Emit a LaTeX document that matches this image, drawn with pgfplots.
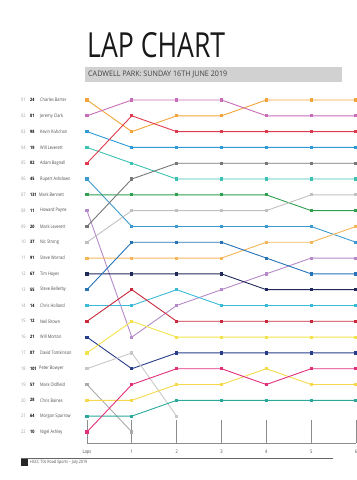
\documentclass[border=0pt]{standalone}
\usepackage{pgfplots}
\pgfplotsset{compat=1.18}
\usetikzlibrary{calc}
\usepackage{fontspec}
\usepackage{graphicx}
\setmainfont{Open Sans}[FakeStretch=0.82]
\definecolor{cBarter}{HTML}{F2A33A}
\definecolor{cClark}{HTML}{C86DB8}
\definecolor{cKiv}{HTML}{2E9BD6}
\definecolor{cWLev}{HTML}{3CC2B0}
\definecolor{cBag}{HTML}{E03A4E}
\definecolor{cAsh}{HTML}{3D9AD1}
\definecolor{cBen}{HTML}{2E9E4F}
\definecolor{cPay}{HTML}{B48AC8}
\definecolor{cMLev}{HTML}{777777}
\definecolor{cStr}{HTML}{C0C0C0}
\definecolor{cWor}{HTML}{F5B55A}
\definecolor{cHay}{HTML}{1F2A5A}
\definecolor{cBel}{HTML}{2673B8}
\definecolor{cHol}{HTML}{3BBBD6}
\definecolor{cBro}{HTML}{C8283C}
\definecolor{cMor}{HTML}{283C8C}
\definecolor{cTom}{HTML}{F2E34A}
\definecolor{cBow}{HTML}{C8C8C8}
\definecolor{cOld}{HTML}{AAAAAA}
\definecolor{cBai}{HTML}{F5D94A}
\definecolor{cSpa}{HTML}{2BA89A}
\definecolor{cAsy}{HTML}{E0307A}
\newcommand{\lbl}[5][-47bp]{%
  \node[anchor=west,inner sep=0,xshift=-66bp,text=black!40,font=\fontsize{4.8}{6}\selectfont] at (axis cs:0,#2) {#3};
  \node[anchor=west,inner sep=0,xshift=-57bp,text=black,font=\fontsize{4.6}{6}\selectfont\bfseries] at (axis cs:0,#2) {#4};
  \node[anchor=west,inner sep=0,xshift=#1,text=black!70,font=\fontsize{4.8}{6}\selectfont] at (axis cs:0,#2) {#5};}
\begin{document}
\begin{tikzpicture}[x=1bp,y=1bp]
\begin{axis}[scale only axis,
  width=269bp, height=343bp, xmin=0, xmax=6, ymin=1, ymax=22.7,
  y dir=reverse, hide axis, clip=false,
  every axis plot/.append style={line width=0.9bp, mark=square*, mark size=1.1bp}]
\coordinate (A) at (axis cs:0,1);
\draw[black!45, line width=0.8bp] (axis cs:0,22.7) -- (axis cs:6,22.7);
\pgfplotsinvokeforeach{0,...,6}{\draw[black!45, line width=0.8bp] (axis cs:#1,22.7) -- ++(0,7bp);}
\node[font=\fontsize{5}{6}\selectfont,text=black!70] at (axis cs:0,22.7) [yshift=-9bp] {Laps};
\pgfplotsinvokeforeach{1,...,6}{\node[font=\fontsize{5}{6}\selectfont,text=black!70] at (axis cs:#1,22.7) [yshift=-9bp] {#1};}
\addplot[cBarter] coordinates {(0,1)(1,3)(2,2)(3,2)(4,1)(5,1)(6,1)};
\addplot[cClark] coordinates {(0,2)(1,1)(2,1)(3,1)(4,2)(5,2)(6,2)};
\addplot[cKiv] coordinates {(0,3)(1,4)(2,4)(3,4)(4,4)(5,4)(6,4)};
\addplot[cWLev] coordinates {(0,4)(1,5)(2,6)(3,6)(4,6)(5,6)(6,6)};
\addplot[cBag] coordinates {(0,5)(1,2)(2,3)(3,3)(4,3)(5,3)(6,3)};
\addplot[cAsh] coordinates {(0,6)(1,9)(2,9)(3,9)(4,9)(5,9)(6,10)};
\addplot[cBen] coordinates {(0,7)(1,7)(2,7)(3,7)(4,7)(5,8)(6,8)};
\addplot[cPay] coordinates {(0,8)(1,16)(2,14)(3,13)(4,12)(5,11)(6,11)};
\addplot[cMLev] coordinates {(0,9)(1,6)(2,5)(3,5)(4,5)(5,5)(6,5)};
\addplot[cStr] coordinates {(0,10)(1,8)(2,8)(3,8)(4,8)(5,7)(6,7)};
\addplot[cWor] coordinates {(0,11)(1,11)(2,11)(3,11)(4,10)(5,10)(6,9)};
\addplot[cHay] coordinates {(0,12)(1,12)(2,12)(3,12)(4,13)(5,13)(6,13)};
\addplot[cBel] coordinates {(0,13)(1,10)(2,10)(3,10)(4,11)(5,12)(6,12)};
\addplot[cHol] coordinates {(0,14)(1,14)(2,13)(3,14)(4,14)(5,14)(6,14)};
\addplot[cBro] coordinates {(0,15)(1,13)(2,15)(3,15)(4,15)(5,15)(6,15)};
\addplot[cMor] coordinates {(0,16)(1,18)(2,17)(3,17)(4,17)(5,17)(6,17)};
\addplot[cTom] coordinates {(0,17)(1,15)(2,16)(3,16)(4,16)(5,16)(6,16)};
\addplot[cBow] coordinates {(0,18)(1,17)(2,21)};
\addplot[cOld] coordinates {(0,19)(1,22)};
\addplot[cBai] coordinates {(0,20)(1,20)(2,19)(3,19)(4,18)(5,19)(6,19)};
\addplot[cSpa] coordinates {(0,21)(1,21)(2,20)(3,20)(4,20)(5,20)(6,20)};
\addplot[cAsy] coordinates {(0,22)(1,19)(2,18)(3,18)(4,19)(5,18)(6,18)};
\lbl{1}{01}{24}{Charles Barter}
\lbl{2}{02}{01}{Jeremy Clark}
\lbl{3}{03}{98}{Kevin Kivlichan}
\lbl{4}{04}{19}{Will Leverett}
\lbl{5}{05}{02}{Adam Bagnall}
\lbl{6}{06}{45}{Rupert Ashdown}
\lbl[-48bp]{7}{07}{131}{Mark Bennett}
\lbl{8}{08}{11}{Howard Payne}
\lbl{9}{09}{20}{Mark Leverett}
\lbl{10}{10}{37}{Nic Strong}
\lbl{11}{11}{91}{Steve Worrad}
\lbl{12}{12}{67}{Tim Hayes}
\lbl{13}{13}{55}{Steve Bellerby}
\lbl{14}{14}{14}{Chris Holland}
\lbl{15}{15}{12}{Neil Brown}
\lbl{16}{16}{21}{Will Morton}
\lbl{17}{17}{07}{David Tomkinson}
\lbl[-48bp]{18}{18}{101}{Peter Bowyer}
\lbl{19}{19}{57}{Mark Oldfield}
\lbl{20}{20}{28}{Chris Baines}
\lbl{21}{21}{64}{Morgan Sparrow}
\lbl{22}{22}{10}{Nigel Ashley}
\end{axis}
\begin{scope}[shift={($(A)+(-87,-380)$)}]
\node[anchor=south west,inner sep=0,text=black!90] at (87,422) {\resizebox{138bp}{25bp}{\fontsize{30}{30}\selectfont LAP CHART}};
\fill[black!18] (85,398) rectangle (342,413);
\node[anchor=west,inner sep=0,text=black!75] at (88,405.5) {\resizebox{139bp}{5.5bp}{\fontsize{8}{8}\selectfont CADWELL PARK: SUNDAY 16TH JUNE 2019}};
\draw[black!60, line width=0.7bp] (21,22) -- (333,22);
\fill[black!85] (21,14) rectangle (28,21);
\node[anchor=west,inner sep=0,font=\fontsize{4.5}{5}\selectfont,text=black!70] at (30,17.5) {HSCC 70s Road Sports -- July 2019};
\pgfresetboundingbox
\path[use as bounding box] (0,0) rectangle (356,480);
\end{scope}
\end{tikzpicture}
\end{document}
